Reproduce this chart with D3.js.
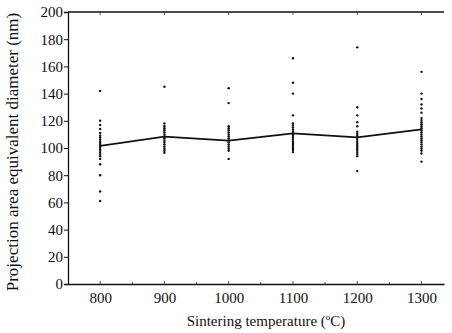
<!DOCTYPE html>
<html>
<head>
<meta charset="utf-8">
<script src="https://cdn.jsdelivr.net/npm/d3@7"></script>
<style>
  body { margin: 0; background: #fff; }
  svg { display: block; }
</style>
</head>
<body>
<svg id="chart" width="452" height="333"></svg>
<script>
const serif = "'Liberation Serif', 'Times New Roman', 'DejaVu Serif', serif";

// sintering temperatures (x categories)
const temps = [800, 900, 1000, 1100, 1200, 1300];

// individual particle diameters (nm)
const d800 = [142, 120, 117, 114, 111, 109, 107.5, 106, 104.5, 103, 101.5, 100, 98.5, 97, 95.5, 94, 92, 88, 80, 68, 61];
const d900 = [145, 118, 116, 114.5, 113, 111.5, 110, 108.5, 107, 105.5, 104, 102.5, 101, 99.5, 98, 96.5];
const d1000 = [144, 133, 116, 114.5, 113, 111.5, 110, 108.5, 107, 105.5, 104, 102.5, 101, 99.5, 98, 92];
const d1100 = [166, 148, 140, 124, 118, 116.5, 115, 113.5, 112, 110.5, 109, 107.5, 106, 104.5, 103, 101.5, 100, 98.5, 97];
const d1200 = [174, 130, 124, 119, 116, 112, 110.5, 109, 107.5, 106, 104.5, 103, 101.5, 100, 98.5, 97, 95.5, 94, 83];
const d1300 = [156, 140, 136, 132, 129, 126, 122, 120.5, 119, 117.5, 116, 114.5, 113, 111.5, 110, 108.5, 107, 105.5, 104, 102.5, 101, 99.5, 98, 96, 90];

// mean line
const means = [101.5, 108.3, 105.4, 110.8, 107.8, 113.7];

const yTicks = [0, 20, 40, 60, 80, 100, 120, 140, 160, 180, 200];

const svg = d3.select("#chart");
const margin = { top: 12, right: 8, bottom: 49, left: 68 };
const width = 452, height = 333;
const w = width - margin.left - margin.right;
const h = height - margin.top - margin.bottom;

const g = svg.append("g").attr("transform", "translate(" + margin.left + "," + margin.top + ")");

const x = d3.scaleLinear().domain([750, 1335]).range([0, w]);
const y = d3.scaleLinear().domain([0, 200]).range([h, 0]);

// left axis
const yAxis = g.append("g")
  .call(d3.axisLeft(y).tickValues(yTicks).tickSize(4).tickPadding(1));
yAxis.attr("font-family", serif).attr("font-size", 15);
yAxis.select(".domain").attr("stroke", "#111").attr("stroke-width", 1.3);
yAxis.selectAll(".tick line").attr("stroke", "#111");
yAxis.selectAll(".tick text").attr("fill", "#111");

// bottom axis
const xAxis = g.append("g")
  .attr("transform", "translate(0," + h + ")")
  .call(d3.axisBottom(x).tickValues(temps).tickFormat(d3.format("d")).tickSize(0).tickPadding(8));
xAxis.attr("font-family", serif).attr("font-size", 15);
xAxis.select(".domain").attr("stroke", "#111").attr("stroke-width", 1.3);
xAxis.selectAll(".tick text").attr("fill", "#111");

// small inner ticks on bottom (major + minor) and top
const minor = d3.range(850, 1300, 100);
g.append("g").selectAll("line")
  .data(temps.concat(minor))
  .enter().append("line")
  .attr("x1", d => x(d)).attr("x2", d => x(d))
  .attr("y1", h).attr("y2", d => h - (temps.includes(d) ? 3 : 2))
  .attr("stroke", "#333").attr("stroke-width", 0.8);

// top frame line with ticks
g.append("line")
  .attr("x1", 0).attr("x2", w)
  .attr("y1", 0).attr("y2", 0)
  .attr("stroke", "#111").attr("stroke-width", 1.3);
g.append("g").selectAll("line")
  .data(temps)
  .enter().append("line")
  .attr("x1", d => x(d)).attr("x2", d => x(d))
  .attr("y1", 0).attr("y2", 3)
  .attr("stroke", "#333").attr("stroke-width", 0.8);

// scatter points
const columns = [d800, d900, d1000, d1100, d1200, d1300];
const pts = [];
columns.forEach((arr, i) => arr.forEach(v => pts.push({ t: temps[i], v: v })));
g.selectAll(".dot")
  .data(pts)
  .enter().append("circle")
  .attr("class", "dot")
  .attr("cx", d => x(d.t))
  .attr("cy", d => y(d.v))
  .attr("r", 1.2)
  .attr("fill", "#111");

// mean line
const line = d3.line()
  .x((d, i) => x(temps[i]))
  .y(d => y(d));
g.append("path")
  .datum(means)
  .attr("fill", "none")
  .attr("stroke", "#111")
  .attr("stroke-width", 1.8)
  .attr("d", line);

// axis titles
const xt = svg.append("text")
  .attr("x", 266)
  .attr("y", 326)
  .attr("text-anchor", "middle")
  .attr("font-family", serif)
  .attr("font-size", 15)
  .attr("fill", "#111");
xt.append("tspan").text("Sintering temperature (");
xt.append("tspan").attr("dy", -6).attr("font-size", 9).text("o");
xt.append("tspan").attr("dy", 6).text("C)");

svg.append("text")
  .attr("transform", "translate(18,152) rotate(-90)")
  .attr("text-anchor", "middle")
  .attr("font-family", serif)
  .attr("font-size", 17)
  .attr("fill", "#111")
  .text("Projection area equivalent diameter (nm)");
</script>
</body>
</html>
